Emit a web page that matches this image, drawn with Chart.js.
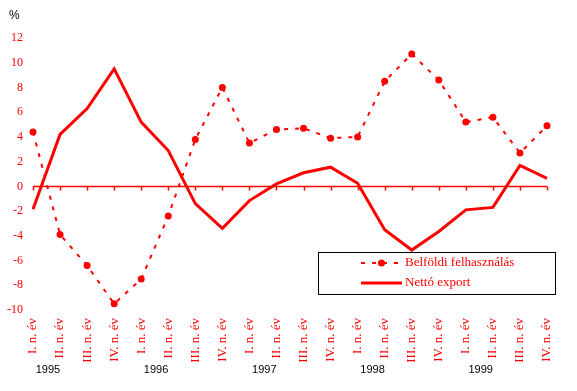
<!DOCTYPE html>
<html>
<head>
<meta charset="utf-8">
<script src="https://cdn.jsdelivr.net/npm/chart.js@4.4.0/dist/chart.umd.min.js"></script>
<style>
  html, body { margin: 0; padding: 0; background: #fff; }
  #wrap { width: 577px; height: 391px; }
</style>
</head>
<body>
<div id="wrap"><canvas id="grafico" width="577" height="391"></canvas></div>
<script>
// negyedévek
var negyedevek = ["I. n. év", "II. n. év", "III. n. év", "IV. n. év"];
var evek = ["1995", "1996", "1997", "1998", "1999"];
var cimkek = [];
evek.forEach(function () {
  negyedevek.forEach(function (q) { cimkek.push(q); });
});

var belfoldi = [4.4, -3.9, -6.4, -9.5, -7.5, -2.4, 3.8, 8.0, 3.5, 4.6,
                4.7, 3.9, 4.0, 8.5, 10.7, 8.6, 5.2, 5.6, 2.7, 4.9];
var netto = [-1.85, 4.2, 6.3, 9.5, 5.2, 2.9, -1.4, -3.4, -1.15, 0.2,
             1.1, 1.55, 0.25, -3.5, -5.15, -3.65, -1.9, -1.7, 1.7, 0.65];

var yTicks = [-10, -8, -6, -4, -2, 0, 2, 4, 6, 8, 10, 12];

var piros = "rgb(255, 0, 0)";
var serif = "'Liberation Serif', 'Times New Roman', serif";
var sans = "'Liberation Sans', Arial, sans-serif";

// nulla vonal + osztások, évszámok, % jel, jelmagyarázat
var rajzolo = {
  id: "rajzolo",
  beforeDatasetsDraw: function (chart) {
    var ctx = chart.ctx;
    var x = chart.scales.x;
    var y = chart.scales.y;
    var y0 = Math.round(y.getPixelForValue(0)) + 0.5;
    ctx.save();
    ctx.strokeStyle = piros;
    ctx.lineWidth = 1.5;
    ctx.beginPath();
    ctx.moveTo(x.getPixelForValue(0), y0);
    ctx.lineTo(x.getPixelForValue(cimkek.length - 1), y0);
    for (var i = 0; i < cimkek.length; i++) {
      var px = Math.round(x.getPixelForValue(i)) + 0.5;
      ctx.moveTo(px, y0);
      ctx.lineTo(px, y0 + 4);
    }
    ctx.stroke();
    ctx.restore();
  },
  afterDraw: function (chart) {
    var ctx = chart.ctx;
    var x = chart.scales.x;
    ctx.save();
    // évszámok
    ctx.fillStyle = "#000";
    ctx.font = "11px " + sans;
    ctx.textAlign = "center";
    ctx.textBaseline = "middle";
    var lepes = x.getPixelForValue(1) - x.getPixelForValue(0);
    evek.forEach(function (ev, k) {
      ctx.fillText(ev, x.getPixelForValue(k * 4) + lepes * 0.55, 370);
    });
    // % jel
    ctx.font = "12px " + sans;
    ctx.textAlign = "left";
    ctx.fillText("%", 9, 16);

    // jelmagyarázat
    var bx = 318.5, by = 252.5, bw = 237, bh = 42;
    ctx.fillStyle = "#fff";
    ctx.fillRect(bx, by, bw, bh);
    ctx.strokeStyle = "#000";
    ctx.lineWidth = 1;
    ctx.strokeRect(bx, by, bw, bh);

    var ds = chart.data.datasets;
    var sorok = [263, 283];
    ds.forEach(function (d, i) {
      var ly = sorok[i];
      ctx.strokeStyle = d.borderColor;
      ctx.lineWidth = d.borderWidth;
      ctx.setLineDash(d.borderDash || []);
      ctx.beginPath();
      ctx.moveTo(361, ly);
      ctx.lineTo(402, ly);
      ctx.stroke();
      ctx.setLineDash([]);
      if (d.pointRadius > 0) {
        ctx.fillStyle = d.pointBackgroundColor;
        ctx.beginPath();
        ctx.arc(381.5, ly, d.pointRadius, 0, Math.PI * 2);
        ctx.fill();
      }
      ctx.fillStyle = piros;
      ctx.font = "13px " + serif;
      ctx.textAlign = "left";
      ctx.textBaseline = "middle";
      ctx.fillText(d.label, 405, ly);
    });
    ctx.restore();
  }
};

var graf = document.getElementById("grafico").getContext("2d");
var grafico = new Chart(graf, {
  type: "line",
  data: {
    labels: cimkek,
    datasets: [
      {
        label: "Belföldi felhasználás",
        data: belfoldi,
        borderColor: piros,
        borderWidth: 2,
        borderDash: [4, 7],
        pointRadius: 3.5,
        pointBackgroundColor: piros,
        pointBorderColor: piros,
        pointBorderWidth: 0,
        tension: 0,
        fill: false
      },
      {
        label: "Nettó export",
        data: netto,
        borderColor: piros,
        borderWidth: 3,
        pointRadius: 0,
        tension: 0,
        fill: false
      }
    ]
  },
  options: {
    responsive: false,
    animation: false,
    layout: {
      padding: { left: 0, right: 30, top: 38, bottom: 0 }
    },
    plugins: {
      legend: { display: false },
      tooltip: { enabled: false },
      title: { display: false }
    },
    scales: {
      x: {
        type: "category",
        offset: false,
        grid: { display: false, drawTicks: false },
        border: { display: false },
        ticks: {
          color: piros,
          font: { family: serif, size: 13 },
          minRotation: 90,
          maxRotation: 90,
          autoSkip: false,
          padding: 8
        },
        afterFit: function (scale) { scale.height = 81; }
      },
      y: {
        min: -10,
        max: 12,
        grid: { display: false, drawTicks: false },
        border: { display: false },
        afterBuildTicks: function (scale) {
          scale.ticks = yTicks.map(function (v) { return { value: v }; });
        },
        ticks: {
          color: piros,
          font: { family: serif, size: 12 },
          padding: 10
        },
        afterFit: function (scale) { scale.width = 33; }
      }
    }
  },
  plugins: [rajzolo]
});
</script>
</body>
</html>
